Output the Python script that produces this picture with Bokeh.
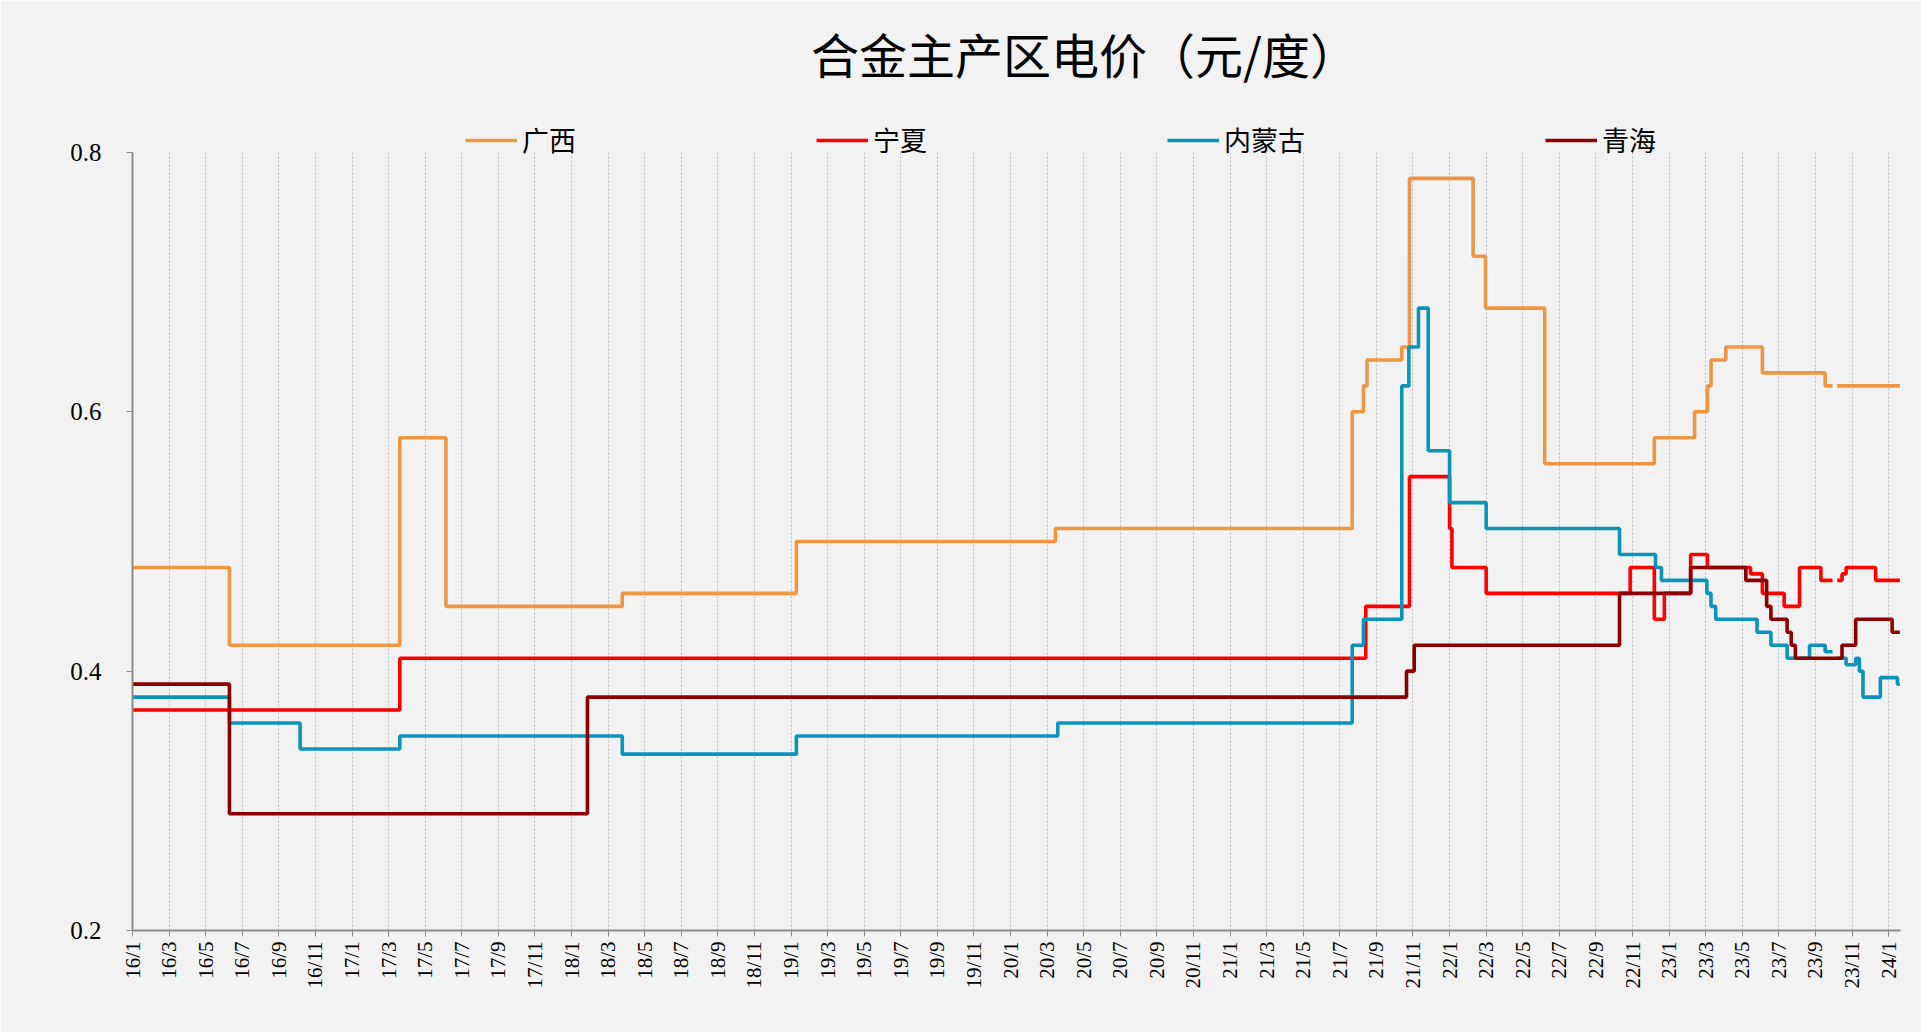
import numpy as np
import pandas as pd
from bokeh.plotting import figure
from bokeh.models import Legend, LegendItem, FixedTicker, Range1d, Label
from bokeh.embed import file_html
from bokeh.resources import INLINE

# ---------------- data (step change points: value holds from date onward) ----------------
gx_dates = ["2016-01-01", "2016-06-10", "2017-03-20", "2017-06-05", "2018-03-25", "2019-01-10",
            "2020-03-15", "2021-07-22", "2021-08-10", "2021-08-16", "2021-10-13", "2021-10-26",
            "2022-02-09", "2022-02-28", "2022-06-07", "2022-12-07", "2023-02-12", "2023-03-04",
            "2023-03-10", "2023-04-04", "2023-06-04", "2023-09-17", "2023-09-29", "2023-10-07",
            "2024-01-20"]
gx_vals = [0.48, 0.42, 0.58, 0.45, 0.46, 0.50,
           0.51, 0.60, 0.62, 0.64, 0.65, 0.78,
           0.72, 0.68, 0.56, 0.58, 0.60, 0.62,
           0.64, 0.65, 0.63, 0.62, None, 0.62,
           0.62]

nx_dates = ["2016-01-01", "2017-03-20", "2021-08-14", "2021-10-26", "2022-01-01", "2022-01-05",
            "2022-03-01", "2022-10-28", "2022-12-07", "2022-12-24", "2023-02-06", "2023-03-04",
            "2023-05-15", "2023-06-04", "2023-07-10", "2023-08-05", "2023-09-10", "2023-09-29",
            "2023-10-07", "2023-10-15", "2023-10-22", "2023-12-10", "2024-01-20"]
nx_vals = [0.37, 0.41, 0.45, 0.55, 0.51, 0.48,
           0.46, 0.48, 0.44, 0.46, 0.49, 0.48,
           0.475, 0.46, 0.45, 0.48, 0.47, None,
           0.47, 0.475, 0.48, 0.47, 0.47]

nm_dates = ["2016-01-01", "2016-06-10", "2016-10-06", "2017-03-20", "2018-03-25", "2019-01-10",
            "2020-03-19", "2021-07-22", "2021-08-10", "2021-10-13", "2021-10-25", "2021-11-10",
            "2021-11-26", "2022-01-01", "2022-03-01", "2022-10-10", "2022-12-09", "2022-12-19",
            "2023-03-03", "2023-03-10", "2023-03-18", "2023-05-26", "2023-06-18", "2023-07-15",
            "2023-08-22", "2023-09-17", "2023-09-29", "2023-10-07", "2023-10-22", "2023-11-07",
            "2023-11-13", "2023-11-19", "2023-12-18", "2024-01-16", "2024-01-20"]
nm_vals = [0.38, 0.36, 0.34, 0.35, 0.336, 0.35,
           0.36, 0.42, 0.44, 0.62, 0.65, 0.68,
           0.57, 0.53, 0.51, 0.49, 0.48, 0.47,
           0.46, 0.45, 0.44, 0.43, 0.42, 0.41,
           0.42, 0.415, None, 0.41, 0.405, 0.41,
           0.40, 0.38, 0.395, 0.39, 0.39]

qh_dates = ["2016-01-01", "2016-06-10", "2018-01-28", "2021-10-21", "2021-11-03", "2022-10-10",
            "2023-02-06", "2023-05-07", "2023-06-11", "2023-06-18", "2023-07-15", "2023-07-22",
            "2023-07-29", "2023-10-15", "2023-11-07", "2024-01-07", "2024-01-20"]
qh_vals = [0.39, 0.29, 0.38, 0.40, 0.42, 0.46,
           0.48, 0.47, 0.45, 0.44, 0.43, 0.42,
           0.41, 0.42, 0.44, 0.43, 0.43]

series_names = ["广西", "宁夏", "内蒙古", "青海"]
series_colors = ["#EE9642", "#FF0000", "#0A94BC", "#8B0000"]
title_text = "合金主产区电价（元/度）"

tick_months = list(range(0, 97, 2))
tick_labels = [f"{16 + m // 12}/{m % 12 + 1}" for m in tick_months]
y_ticks = [0.2, 0.4, 0.6, 0.8]
y_min, y_max = 0.2, 0.8


def to_month(d):
    t = pd.Timestamp(d)
    return (t.year - 2016) * 12 + (t.month - 1) + (t.day - 1) / t.days_in_month


def step_path(dates, vals):
    xs, ys = [], []
    m = [to_month(d) for d in dates]
    for i in range(len(m) - 1):
        v = np.nan if vals[i] is None else vals[i]
        xs += [m[i], m[i + 1]]
        ys += [v, v]
    return xs, ys


# frame extends above 0.8 so that the title and legend sit inside it
p = figure(width=1921, height=1032, output_backend="svg", toolbar_location=None,
           x_range=Range1d(0, 96.65), y_range=Range1d(y_min, y_max + 0.1095),
           min_border_left=132, min_border_right=21, min_border_bottom=102, min_border_top=10)
p.background_fill_color = "#f2f2f2"
p.border_fill_color = "#f2f2f2"
p.outline_line_color = None

renderers = []
for dates, vals, color in zip([gx_dates, nx_dates, nm_dates, qh_dates],
                              [gx_vals, nx_vals, nm_vals, qh_vals], series_colors):
    xs, ys = step_path(dates, vals)
    r = p.line(xs, ys, line_color=color, line_width=3.6)
    renderers.append(r)

# axes
p.xaxis.ticker = FixedTicker(ticks=tick_months)
p.xaxis.major_label_overrides = {m: lab for m, lab in zip(tick_months, tick_labels)}
p.xaxis.major_label_orientation = np.pi / 2
p.xaxis.major_label_text_font = "Liberation Serif"
p.xaxis.major_label_text_font_size = "21px"
p.xaxis.major_label_text_color = "#000000"
p.xaxis.axis_line_color = "#8c8c8c"
p.xaxis.axis_line_width = 2
p.xaxis.major_tick_line_color = "#8c8c8c"
p.xaxis.major_tick_out = 6
p.xaxis.major_tick_in = 0
p.xaxis.minor_tick_line_color = None
p.xaxis.major_label_standoff = 5

p.yaxis.ticker = FixedTicker(ticks=y_ticks)
p.yaxis.bounds = (y_min, y_max)
p.yaxis.major_label_overrides = {v: f"{v:.1f}" for v in y_ticks}
p.yaxis.major_label_text_font = "Liberation Serif"
p.yaxis.major_label_text_font_size = "25px"
p.yaxis.major_label_text_color = "#000000"
p.yaxis.axis_line_color = "#8c8c8c"
p.yaxis.axis_line_width = 2
p.yaxis.major_tick_line_color = "#8c8c8c"
p.yaxis.major_tick_out = 6
p.yaxis.major_tick_in = 0
p.yaxis.minor_tick_line_color = None
p.yaxis.major_label_standoff = 25

p.xgrid.ticker = FixedTicker(ticks=tick_months)
p.xgrid.cross_bounds = (y_min, y_max)
p.xgrid.grid_line_color = "#bdbdbd"
p.xgrid.grid_line_dash = "2 2"
p.xgrid.grid_line_width = 1
p.ygrid.visible = False

# legend (screen units from the frame's bottom-left; y is the legend's bottom edge)
items = [LegendItem(label=n, renderers=[r]) for n, r in zip(series_names, renderers)]
legend = Legend(items=items, orientation="horizontal", location=(333, 771),
                spacing=240, glyph_width=52, glyph_height=28, label_standoff=5,
                label_height=28,
                label_text_font="Noto Sans CJK SC", label_text_font_size="27px",
                label_text_color="#000000",
                border_line_alpha=0, background_fill_alpha=0, padding=0, margin=0)
p.add_layout(legend, "center")

# title (screen units from the frame's bottom-left)
title = Label(x=952, y=878, x_units="screen", y_units="screen", text=title_text,
              text_align="center", text_baseline="middle",
              text_font="Noto Sans CJK SC", text_font_size="48px", text_color="#000000")
p.add_layout(title)

html = file_html(p, INLINE)
open("out.html", "w").write(html)
